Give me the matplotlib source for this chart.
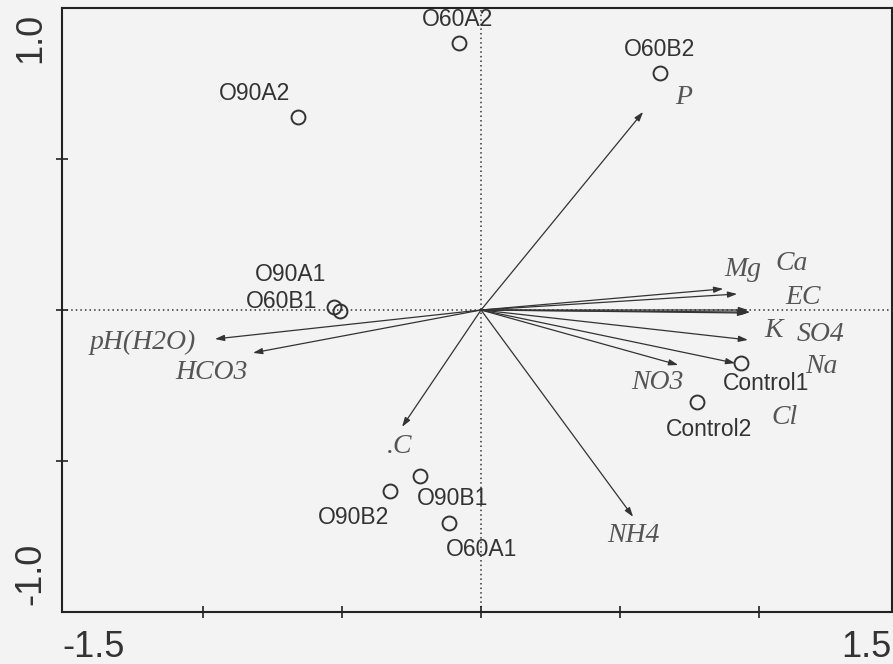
import numpy as np
import matplotlib
matplotlib.use('Agg')
import matplotlib.pyplot as plt

# sample scores
samples = ["O90A2", "O60A2", "O60B2", "O90A1", "O60B1",
           "Control1", "Control2", "O90B1", "O90B2", "O60A1"]
samp_x = [-0.658, -0.079, 0.644, -0.528, -0.507, 0.935, 0.777, -0.219, -0.327, -0.115]
samp_y = [0.639, 0.884, 0.785, 0.009, -0.002, -0.175, -0.305, -0.550, -0.599, -0.705]

# environmental variable arrows
variables = ["P", "Mg", "Ca", "EC", "K", "SO4", "Na", "Cl", "NO3", "NH4", ".C", "pH(H2O)", "HCO3"]
var_x = [0.583, 0.871, 0.921, 0.960, 0.968, 0.957, 0.960, 0.914, 0.709, 0.547, -0.284, -0.957, -0.820]
var_y = [0.656, 0.070, 0.053, 0.000, -0.007, -0.010, -0.099, -0.176, -0.182, -0.685, -0.387, -0.096, -0.142]

# label offsets in pixels (layout only)
samp_off = [(-44, 24), (-2, 24), (-1, 23), (-44, 33), (-58, 9),
            (25, -21), (12, -27), (32, -22), (-37, -27), (33, -27)]
var_off = [(41, 14), (20, 19), (55, 30), (55, 13), (23, -18), (73, -21), (73, -27),
           (49, -54), (-21, -18), (0, -19), (-2, -20), (-72, -3), (-42, -20)]

bg = '#f3f3f3'
fig = plt.figure(figsize=(8.93, 6.64), dpi=100, facecolor=bg)
ax = fig.add_axes([62/893, 1-612/664, 830/893, 604/664], facecolor=bg)
ax.set_xlim(-1.507, 1.478)
ax.set_ylim(-1.0, 1.0)

for s in ax.spines.values():
    s.set_linewidth(1.5)
    s.set_color('#222222')

ax.set_xticks([-1.0, -0.5, 0, 0.5, 1.0])
ax.set_yticks([-0.5, 0, 0.5])
ax.tick_params(direction='inout', length=8, width=1.2, colors='#222222',
               labelbottom=False, labelleft=False)

ax.axhline(0, color='#333333', lw=1.1, ls=(0, (1, 2)), zorder=1)
ax.axvline(0, color='#333333', lw=1.1, ls=(0, (1, 2)), zorder=1)

# arrows
for i in range(len(variables)):
    ax.annotate('', xy=(var_x[i], var_y[i]), xytext=(0, 0),
                arrowprops=dict(arrowstyle='-|>,head_length=0.55,head_width=0.18',
                                color='#333333', lw=0.9, shrinkA=0, shrinkB=0))
    ax.annotate(variables[i], xy=(var_x[i], var_y[i]), xytext=var_off[i],
                textcoords='offset pixels', ha='center', va='center',
                family='Liberation Serif', style='italic', fontsize=20, color='#555555')

# samples
ax.plot(samp_x, samp_y, 'o', ms=10, mfc='none', mec='#333333', mew=1.4, zorder=3)
for i in range(len(samples)):
    ax.annotate(samples[i], xy=(samp_x[i], samp_y[i]), xytext=samp_off[i],
                textcoords='offset pixels', ha='center', va='center',
                family='Liberation Sans', fontsize=16.5, color='#333333')

# axis end labels
tk = dict(family='Liberation Sans', fontsize=26, color='#333333')
ax.text(0.0, -0.075, '-1.5', transform=ax.transAxes, ha='left', va='baseline', **tk)
ax.text(1.0, -0.075, '1.5', transform=ax.transAxes, ha='right', va='baseline', **tk)
ax.text(-0.017, 0.992, '1.0', transform=ax.transAxes, ha='right', va='top', rotation=90, **tk)
ax.text(-0.017, 0.012, '-1.0', transform=ax.transAxes, ha='right', va='bottom', rotation=90, **tk)

fig.savefig('out.png', dpi=100, facecolor=bg)
